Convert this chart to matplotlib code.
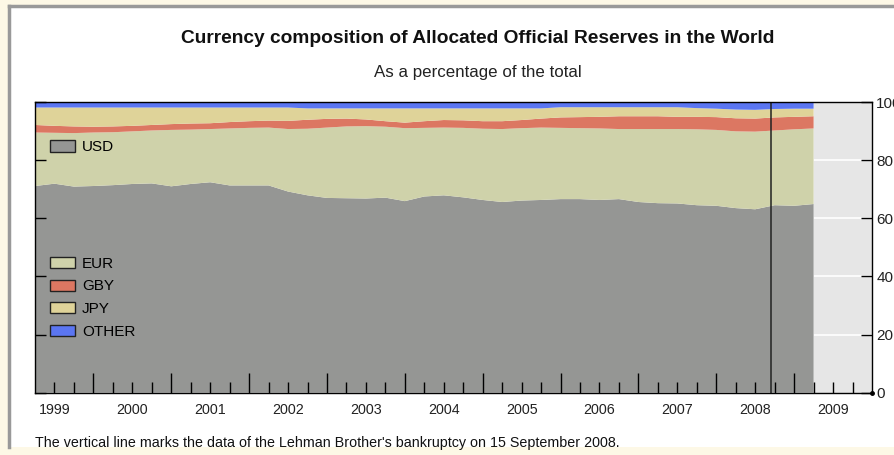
import numpy as np
import matplotlib
matplotlib.use("Agg")
import matplotlib.pyplot as plt
from matplotlib.patches import Patch, Rectangle
from matplotlib.lines import Line2D
from matplotlib.ticker import FixedLocator, NullFormatter

plt.rcParams['font.family'] = ['Liberation Sans', 'DejaVu Sans']

# quarterly shares (%), 1999Q1 .. 2009Q1, plotted at quarter end
quarters = 1999.25 + 0.25 * np.arange(41)

usd = [71.1, 71.9, 70.9, 71.1, 71.4, 71.8, 72.0, 71.0, 71.8, 72.4,
       71.3, 71.3, 71.3, 69.2, 67.9, 67.0, 66.9, 66.8, 67.1, 65.9,
       67.5, 67.9, 67.2, 66.3, 65.6, 66.1, 66.3, 66.6, 66.6, 66.3,
       66.6, 65.6, 65.2, 65.1, 64.5, 64.3, 63.5, 63.1, 64.5, 64.3, 64.9]
eur = [18.4, 17.5, 18.4, 18.4, 18.2, 18.1, 18.2, 19.4, 18.7, 18.3,
       19.6, 19.8, 19.9, 21.5, 22.9, 24.2, 24.7, 24.9, 24.4, 25.1,
       23.6, 23.3, 23.9, 24.5, 25.1, 24.9, 24.9, 24.5, 24.4, 24.6,
       24.1, 25.1, 25.5, 25.6, 26.1, 26.1, 26.4, 26.7, 25.7, 26.3, 26.0]
gby = [2.6, 2.4, 2.3, 2.0, 2.0, 1.9, 1.9, 2.0, 2.1, 2.0,
       2.2, 2.3, 2.4, 2.8, 3.1, 3.0, 2.7, 2.3, 1.9, 1.9,
       2.3, 2.6, 2.6, 2.6, 2.7, 2.8, 3.1, 3.6, 3.8, 4.0,
       4.4, 4.4, 4.4, 4.2, 4.3, 4.4, 4.5, 4.5, 4.5, 4.3, 4.2]
jpy = [6.0, 6.3, 6.5, 6.6, 6.5, 6.3, 6.0, 5.7, 5.5, 5.4,
       5.0, 4.7, 4.5, 4.6, 3.9, 3.6, 3.5, 3.8, 4.4, 4.9,
       4.4, 4.0, 4.1, 4.4, 4.4, 4.0, 3.5, 3.5, 3.4, 3.3,
       3.1, 3.1, 3.1, 3.3, 3.0, 2.9, 3.0, 3.0, 2.9, 2.8, 2.6]
other = [1.9, 1.9, 1.9, 1.9, 1.9, 1.9, 1.9, 1.9, 1.9, 1.9,
         1.9, 1.9, 1.9, 1.9, 2.2, 2.2, 2.2, 2.2, 2.2, 2.2,
         2.2, 2.2, 2.2, 2.2, 2.2, 2.2, 2.2, 1.8, 1.8, 1.8,
         1.8, 1.8, 1.8, 1.8, 2.1, 2.3, 2.6, 2.7, 2.4, 2.3, 2.3]

labels = ['USD', 'EUR', 'GBY', 'JPY', 'OTHER']
colors = ['#959694', '#cfd2aa', '#dc7762', '#dfd399', '#5b76f2']
years = list(range(1999, 2010))
lehman = 2008.7

fig = plt.figure(figsize=(8.94, 4.55), dpi=100)
fig.patch.set_facecolor('#fdf8e6')
# white page with grey frame on left and top
fig.patches.append(Rectangle((9 / 894, 1 - 447 / 455), 1.0, 441.5 / 455,
                             transform=fig.transFigure, facecolor='white',
                             edgecolor='none', zorder=-10))
fig.lines.append(Line2D([9 / 894, 9 / 894], [1 - 447 / 455, 1 - 5.5 / 455],
                        transform=fig.transFigure, color='#999999', lw=2.5, zorder=-9))
fig.lines.append(Line2D([9 / 894, 1.0], [1 - 5.5 / 455, 1 - 5.5 / 455],
                        transform=fig.transFigure, color='#999999', lw=2.5, zorder=-9))

ax = fig.add_axes([35 / 894, (455 - 392.7) / 455, 837 / 894, 290.7 / 455])
ax.set_xlim(1999.25, 2010.0)
ax.set_ylim(0, 100)
ax.set_facecolor('white')

# area beyond the data
ax.axvspan(quarters[-1], 2010.0, color='#e6e6e6', zorder=0)
for yv in [20, 40, 60, 80]:
    ax.axhline(yv, color='white', lw=1.2, zorder=0.5)

ax.stackplot(quarters, usd, eur, gby, jpy, other, colors=colors, zorder=1)
ax.axvline(lehman, color='#222222', lw=1.1, zorder=3)

# axes styling
for s in ax.spines.values():
    s.set_color('black')
    s.set_linewidth(1.0)
    s.set_zorder(4)

ax.xaxis.set_major_locator(FixedLocator(years[1:]))
ax.xaxis.set_minor_locator(FixedLocator([q for q in np.arange(1999.5, 2010, 0.25)
                                         if q % 1 != 0]))
ax.xaxis.set_major_formatter(NullFormatter())
ax.tick_params(axis='x', which='major', direction='in', length=14.5, width=1, color='black')
ax.tick_params(axis='x', which='minor', direction='in', length=8, width=1, color='black')
for yr in years:
    ax.text(yr + 0.5, -0.06, str(yr), transform=ax.get_xaxis_transform(),
            ha='center', va='center', fontsize=10.3, color='#222222')

ax.set_yticks([0, 20, 40, 60, 80, 100])
ax.tick_params(axis='y', which='both', direction='in', length=8, width=1,
               left=True, right=True, labelleft=False, labelright=True,
               labelsize=11, pad=3, labelcolor='#222222')
ax.plot([1], [0], marker='o', ms=2.5, color='black', transform=ax.transAxes,
        clip_on=False, zorder=5)

# legends
h_usd = [Patch(facecolor=colors[0], edgecolor='#222222', lw=1)]
leg1 = ax.legend(h_usd, ['USD'], loc='upper left', bbox_to_anchor=(0.018, 0.868),
                 frameon=False, fontsize=11, handlelength=1.6, handleheight=0.75,
                 handletextpad=0.5, borderpad=0, borderaxespad=0)
ax.add_artist(leg1)
h_rest = [Patch(facecolor=c, edgecolor='#222222', lw=1) for c in colors[1:]]
ax.legend(h_rest, labels[1:], loc='upper left', bbox_to_anchor=(0.018, 0.467),
          frameon=False, fontsize=11, handlelength=1.6, handleheight=0.75,
          handletextpad=0.5, labelspacing=0.56, borderpad=0, borderaxespad=0)

fig.text(0.534, 0.916, 'Currency composition of Allocated Official Reserves in the World',
         ha='center', va='center', fontsize=13.8, fontweight='bold', color='#111111')
fig.text(0.534, 0.84, 'As a percentage of the total', ha='center', va='center',
         fontsize=12.2, color='#222222')
fig.text(35 / 894, 1 - 443 / 455,
         "The vertical line marks the data of the Lehman Brother's bankruptcy on 15 September 2008.",
         ha='left', va='center', fontsize=10.3, color='#111111')

fig.savefig('out.png', dpi=100, facecolor=fig.get_facecolor())
